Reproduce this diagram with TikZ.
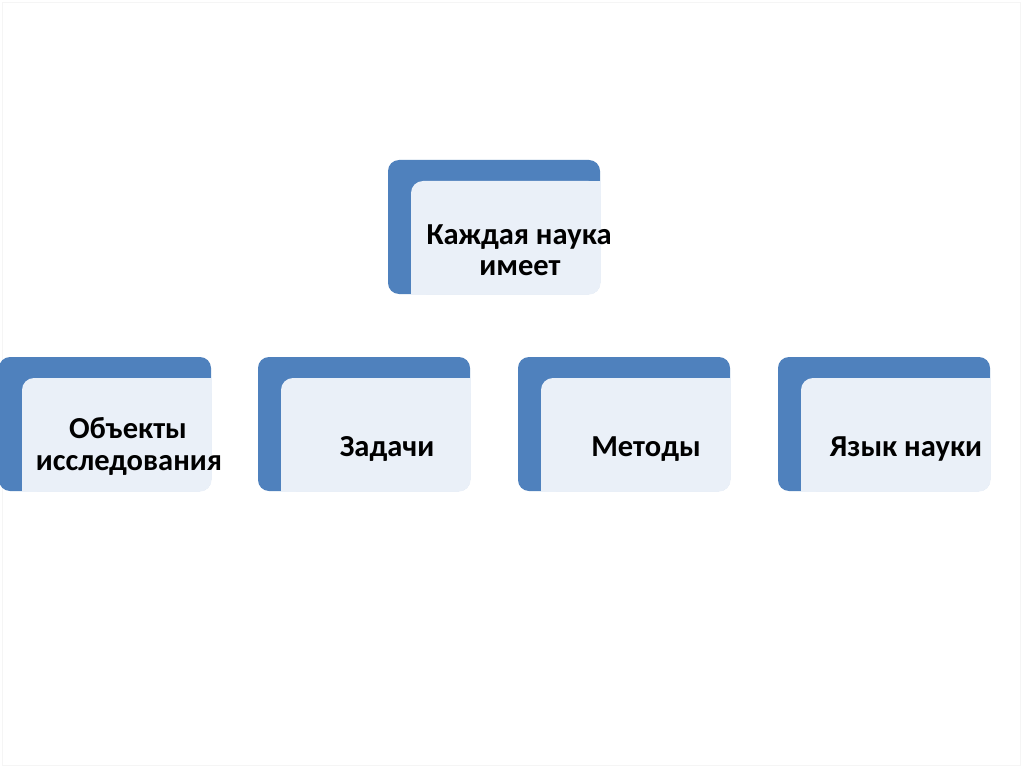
\documentclass[tikz,border=0pt]{standalone}
\usepackage{fontspec}
\setmainfont{Carlito}
\definecolor{cardblue}{HTML}{4F81BD}
\definecolor{cardpanel}{HTML}{EAF0F8}
\tikzset{
  x=1pt, y=-1pt,
  cardtext/.style={anchor=base, inner sep=0pt, font=\fontsize{30.5}{32}\selectfont\bfseries, text=black},
}
% #1 left, #2 top of the blue card (212 x 134)
\newcommand{\cardshape}[2]{%
  \fill[cardblue, rounded corners=11] (#1,#2) rectangle ++(212,134);
  \fill[cardpanel, rounded corners=12] ({#1+23},{#2+21}) rectangle ({#1+212.6},{#2+134.6});
  \fill[cardpanel] ({#1+198},{#2+21}) rectangle ({#1+212.6},{#2+36});
  \fill[cardpanel] ({#1+23},{#2+120}) rectangle ({#1+38},{#2+134.6});
}
\begin{document}
\begin{tikzpicture}
\useasboundingbox (0,0) rectangle (1024,767);
\fill[white] (0,0) rectangle (1024,767);
\draw[black!4, line width=0.8] (2,2) rectangle (1020,765);
\cardshape{388}{160}
\cardshape{-1}{357}
\cardshape{258}{357}
\cardshape{518}{357}
\cardshape{778}{357}
\node[cardtext] (top1) at (519,244) {Каждая наука};
\node[cardtext] (top2) at (520,275) {имеет};
\node[cardtext] (obj1) at (128,438) {Объекты};
\node[cardtext] (obj2) at (129,470) {исследования};
\node[cardtext] (task) at (387,456) {Задачи};
\node[cardtext] (meth) at (646,456) {Методы};
\node[cardtext] (lang) at (906,456) {Язык науки};
\end{tikzpicture}
\end{document}
